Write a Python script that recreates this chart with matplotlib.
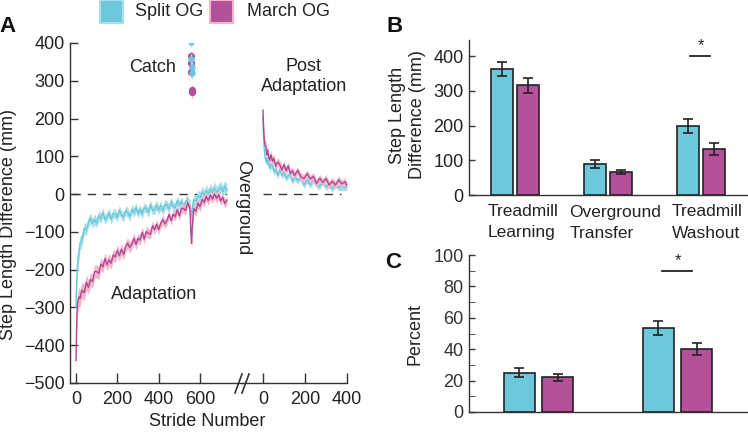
import matplotlib
matplotlib.use("Agg")
import matplotlib.pyplot as plt
from matplotlib.patches import Rectangle
from matplotlib.lines import Line2D

plt.rcParams['font.family'] = ['Liberation Sans', 'DejaVu Sans']

# ---------------- data ----------------
groups = ["Split OG", "March OG"]

adapt_stride = [0, 2, 4, 6, 8, 10, 15, 20, 25, 30, 40, 50, 60, 70, 80, 90, 100, 110, 120, 130,
                140, 150, 160, 170, 180, 190, 200, 210, 220, 230, 240, 250, 260, 270, 280, 290,
                300, 310, 320, 330, 340, 350, 360, 370, 380, 390, 400, 410, 420, 430, 440, 450,
                460, 470, 480, 490, 500, 510, 520, 530, 540, 550, 553, 556, 559, 562, 566, 570,
                580, 590, 600, 610, 620, 630, 640, 650, 660, 670, 680, 690, 700, 710, 720, 730]
adapt_split = [-300, -258, -222, -196, -185, -168, -152, -128, -126, -117, -91, -95, -74, -64, -77,
               -67, -77, -56, -65, -49, -67, -60, -49, -67, -51, -52, -62, -42, -56, -60, -44, -48,
               -60, -40, -49, -36, -51, -40, -53, -35, -39, -49, -27, -43, -41, -28, -43, -30, -45,
               -27, -29, -39, -20, -33, -36, -17, -29, -20, -34, -20, -15, -28, -42, -56, -60, -38,
               -26, -14, -19, -4, -9, 6, -3, 9, 1, 13, 3, 16, 5, 12, 19, 7, 21, 11]
adapt_split_se = [40, 36, 32, 28, 26, 24, 22, 20, 18, 17, 16, 15, 14, 14, 13, 14, 13, 14, 13, 13,
                  13, 12, 13, 13, 12, 13, 12, 13, 12, 13, 12, 13, 12, 12, 13, 12, 12, 12, 13, 12,
                  12, 13, 12, 12, 12, 13, 12, 12, 12, 13, 12, 12, 12, 13, 12, 12, 12, 13, 12, 12,
                  12, 13, 14, 16, 16, 15, 14, 14, 14, 15, 14, 15, 14, 15, 14, 15, 15, 16, 15, 16,
                  15, 16, 16, 15]
adapt_march = [-440, -385, -330, -300, -288, -282, -272, -276, -262, -254, -261, -234, -247, -226,
               -231, -205, -205, -210, -185, -193, -171, -187, -174, -183, -161, -166, -149, -163,
               -146, -160, -139, -130, -141, -133, -117, -133, -117, -122, -101, -119, -99, -104,
               -106, -84, -94, -80, -94, -77, -68, -79, -70, -54, -70, -53, -60, -41, -58, -38,
               -38, -44, -23, -35, -62, -105, -130, -95, -60, -38, -46, -24, -33, -14, -22, -6,
               -17, -3, -13, 0, -11, -2, -18, -9, -25, -16]
adapt_march_se = [36, 34, 32, 29, 27, 26, 25, 24, 23, 22, 21, 20, 19, 19, 18, 18, 17, 17, 17, 16,
                  16, 16, 16, 15, 16, 15, 15, 15, 15, 14, 15, 14, 15, 14, 14, 14, 14, 13, 14, 13,
                  14, 13, 13, 13, 13, 13, 13, 12, 13, 12, 13, 12, 12, 12, 12, 12, 12, 12, 12, 12,
                  12, 12, 14, 16, 18, 16, 14, 13, 13, 13, 13, 13, 13, 13, 12, 13, 12, 13, 12, 13,
                  12, 13, 12, 13]

post_stride = [0, 2, 4, 6, 8, 10, 14, 18, 22, 27, 32, 38, 45, 52, 60, 70, 80, 90, 100, 110, 120,
               130, 140, 150, 165, 180, 195, 210, 225, 240, 255, 270, 285, 300, 315, 330, 345, 360,
               375, 390, 400]
post_split = [205, 165, 138, 120, 108, 98, 86, 96, 81, 90, 68, 78, 77, 59, 66, 49, 66, 50, 57, 42,
              49, 54, 33, 45, 36, 44, 24, 38, 25, 38, 25, 20, 36, 18, 27, 13, 27, 18, 19, 17, 20]
post_split_se = [16, 15, 14, 13, 13, 12, 12, 11, 11, 11, 10, 10, 10, 10, 10, 10, 9, 9, 9, 9,
                 9, 9, 9, 9, 9, 9, 9, 9, 9, 9, 9, 9, 9, 9, 9, 9, 9, 9, 9, 9, 9]
post_march = [222, 185, 160, 145, 136, 128, 127, 104, 117, 98, 90, 104, 87, 94, 74, 85, 78, 64, 78,
              62, 75, 55, 62, 49, 63, 46, 41, 54, 40, 47, 28, 42, 31, 41, 24, 34, 24, 38, 27, 33, 22]
post_march_se = [18, 17, 16, 15, 14, 14, 13, 13, 13, 12, 12, 12, 12, 11, 11, 11, 11, 11, 11, 10,
                 10, 10, 10, 10, 10, 10, 10, 10, 10, 10, 10, 10, 10, 10, 10, 10, 10, 10, 10, 10, 10]

catch_split_stride = [556, 557, 559, 560]
catch_split = [402, 357, 336, 320]
catch_split_se = [12, 14, 14, 14]
catch_march_stride = [556, 557, 558, 559, 560]
catch_march = [365, 347, 322, 275, 269]
catch_march_se = [15, 15, 15, 15, 15]

categories_b = ["Treadmill\nLearning", "Overground\nTransfer", "Treadmill\nWashout"]
b_split = [364, 90, 200]
b_split_err = [20, 12, 20]
b_march = [316, 67, 132]
b_march_err = [22, 5, 17]

c_split = [25, 53.6]
c_split_err = [2.9, 4.3]
c_march = [22.2, 40]
c_march_err = [2.2, 3.7]

# ---------------- style ----------------
W, H = 748, 433
CY = '#6CC8DA'
CY_L = '#A9DFEA'
MG = '#B5519B'
MG_L = '#F3B6C8'
MG_LINE = '#B04697'
TXT = '#222222'
AXC = '#333333'
FS = 13

def fx(px):
    return px / W

def fy(py):
    return 1 - py / H

fig = plt.figure(figsize=(W / 100, H / 100), dpi=100)


def style_axis(ax):
    for s in ['top', 'right']:
        ax.spines[s].set_visible(False)
    for s in ax.spines.values():
        s.set_color(AXC)
        s.set_linewidth(1.0)
    ax.tick_params(direction='in', colors=AXC, labelcolor=TXT, labelsize=FS, width=1)


# ---------------- panel A ----------------
ax1 = fig.add_axes([fx(70), fy(383), (242 - 70) / W, 340 / H])
ax2 = fig.add_axes([fx(242), fy(383), (347 - 242) / W, 340 / H])
for ax in (ax1, ax2):
    style_axis(ax)
    ax.set_ylim(-500, 400)
    ax.patch.set_alpha(0)
ax1.set_xlim(-29, 803)
ax2.set_xlim(-100, 400)
ax2.spines['left'].set_visible(False)
ax2.set_yticks([])
ax1.set_yticks(range(-500, 401, 100))
ax1.set_xticks([0, 200, 400, 600])
ax2.set_xticks([0, 200, 400])
for ax in (ax1, ax2):
    ax.tick_params(axis='y', length=5.5, pad=4)
    ax.tick_params(axis='x', length=7, pad=6)

ax1.plot([-20, 730], [0, 0], color=AXC, lw=1, dashes=(6, 5), zorder=1)
ax2.plot([0, 370], [0, 0], color=AXC, lw=1, dashes=(6, 5), zorder=1)

def band(ax, x, m, se, fc, lc, z):
    lo = [a - b for a, b in zip(m, se)]
    hi = [a + b for a, b in zip(m, se)]
    ax.fill_between(x, lo, hi, color=fc, lw=0, zorder=z)
    ax.plot(x, m, color=lc, lw=1.0, zorder=z + 0.5)

band(ax1, adapt_stride, adapt_split, adapt_split_se, CY_L, CY, 2)
band(ax1, adapt_stride, adapt_march, adapt_march_se, MG_L, MG_LINE, 3)
band(ax2, post_stride, post_split, post_split_se, CY_L, CY, 2)
band(ax2, post_stride, post_march, post_march_se, MG_L, MG_LINE, 3)

ax1.errorbar(catch_march_stride, catch_march, yerr=catch_march_se, fmt='o', color=MG, ms=4.2,
             ecolor=MG_L, elinewidth=1, capsize=0, zorder=4)
ax1.errorbar(catch_split_stride, catch_split, yerr=catch_split_se, fmt='o', color=CY, ms=3.6,
             ecolor=CY_L, elinewidth=1, capsize=0, zorder=5)

ax1.text(368, 336, "Catch", ha='center', va='center', fontsize=FS, color=TXT)
ax1.text(377, -265, "Adaptation", ha='center', va='center', fontsize=FS, color=TXT)
ax2.text(195, 337, "Post", ha='center', va='center', fontsize=FS, color=TXT)
ax2.text(195, 284, "Adaptation", ha='center', va='center', fontsize=FS, color=TXT)
fig.text(fx(243), fy(208), "Overground", rotation=-90, ha='center', va='center',
         fontsize=FS, color=TXT)
fig.text(fx(9), fy(225), "Step Length Difference (mm)", rotation=90, ha='center',
         va='center', fontsize=FS, color=TXT)
fig.text(fx(207), fy(421), "Stride Number", ha='center', va='center', fontsize=FS, color=TXT)

# axis break marks
for k in range(2):
    fig.add_artist(Line2D([fx(235 + 7 * k), fx(242 + 7 * k)], [fy(393), fy(374)],
                          color=AXC, lw=1.2))

# ---------------- panel B ----------------
axb = fig.add_axes([fx(469), fy(195), (747 - 469) / W, 155 / H])
style_axis(axb)
axb.set_xlim(-0.5, 2.5)
axb.set_ylim(0, 447)
axb.set_xticks([])
axb.set_yticks([0, 100, 200, 300, 400])
axb.tick_params(axis='y', length=4, pad=4)
xb = list(range(len(categories_b)))
bw, off = 0.238, 0.14
axb.bar([x - off for x in xb], b_split, bw, yerr=b_split_err, color=CY, edgecolor='#222',
        lw=1.2, capsize=3.5, error_kw=dict(elinewidth=1.2, capthick=1.2, ecolor='#222'), zorder=3)
axb.bar([x + off for x in xb], b_march, bw, yerr=b_march_err, color=MG, edgecolor='#222',
        lw=1.2, capsize=3.5, error_kw=dict(elinewidth=1.2, capthick=1.2, ecolor='#222'), zorder=3)
axb.plot([1.89, 2.10], [400, 400], color='#222', lw=1.3)
axb.text(2.0, 408, "*", ha='center', va='bottom', fontsize=12, color=TXT)
label_x = [-0.303, 0.584, 1.686]
for x0, cat in zip(label_x, categories_b):
    for i, line in enumerate(cat.split("\n")):
        axb.text(x0, (195 - 212 - 21 * i) / 155, line, transform=axb.get_xaxis_transform(),
                 ha='left', va='center', fontsize=12.5, color=TXT)
fig.text(fx(407.5), fy(115), "Step Length\nDifference (mm)", rotation=90, ha='center',
         va='center', multialignment='center', fontsize=FS, color=TXT, linespacing=1.25)

# ---------------- panel C ----------------
axc = fig.add_axes([fx(469), fy(412), (747 - 469) / W, 157 / H])
style_axis(axc)
axc.set_xlim(-0.5, 1.5)
axc.set_ylim(0, 100)
axc.set_xticks([])
axc.set_yticks(range(0, 101, 20))
axc.set_yticks(range(10, 100, 20), minor=True)
axc.tick_params(axis='y', which='both', length=4, pad=4, direction='in', colors=AXC)
xc = [0, 1]
bw2 = 0.223
axc.bar([x - off for x in xc], c_split, bw2, yerr=c_split_err, color=CY, edgecolor='#222',
        lw=1.2, capsize=3.5, error_kw=dict(elinewidth=1.2, capthick=1.2, ecolor='#222'), zorder=3)
axc.bar([x + off for x in xc], c_march, bw2, yerr=c_march_err, color=MG, edgecolor='#222',
        lw=1.2, capsize=3.5, error_kw=dict(elinewidth=1.2, capthick=1.2, ecolor='#222'), zorder=3)
axc.plot([0.89, 1.106], [90, 90], color='#222', lw=1.3)
axc.text(1.0, 91.5, "*", ha='center', va='bottom', fontsize=12, color=TXT)
fig.text(fx(415), fy(334), "Percent", rotation=90, ha='center', va='center', fontsize=FS,
         color=TXT)

# ---------------- legend & panel letters ----------------
fig.add_artist(Rectangle((fx(100), fy(23)), 23 / W, 23 / H, transform=fig.transFigure,
                         facecolor=CY, edgecolor=CY_L, lw=1.5))
fig.text(fx(135), fy(12), groups[0], ha='left', va='center', fontsize=FS, color=TXT)
fig.add_artist(Rectangle((fx(210), fy(23)), 23 / W, 23 / H, transform=fig.transFigure,
                         facecolor=MG, edgecolor=MG_L, lw=1.5))
fig.text(fx(247), fy(12), groups[1], ha='left', va='center', fontsize=FS, color=TXT)

for lab, px, py in [("A", 8, 27), ("B", 395, 27), ("C", 393, 262)]:
    fig.text(fx(px), fy(py), lab, ha='center', va='center', fontsize=16, fontweight='bold',
             color='#111')

fig.savefig("out.png", dpi=100)
